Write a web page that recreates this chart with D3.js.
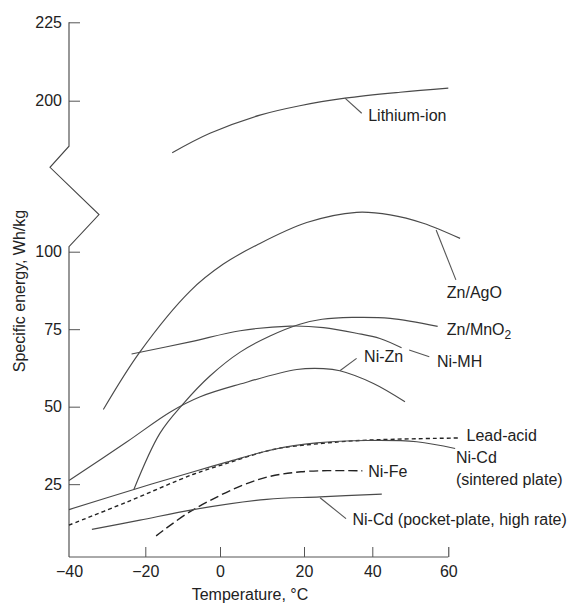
<!DOCTYPE html>
<html>
<head>
<meta charset="utf-8">
<script src="https://cdn.jsdelivr.net/npm/d3@7"></script>
<style>
  body { margin: 0; background: #fff; }
  text { font-family: "Liberation Sans", Arial, sans-serif; fill: #222; }
</style>
</head>
<body>
<svg id="chart" width="574" height="603"></svg>
<script>
'use strict';

// x: temperature (°C), y: specific energy (Wh/kg)
const xTicks = [-40, -20, 0, 20, 40, 60];
const yTicksLow = [25, 50, 75, 100];
const yTicksHigh = [200, 225];

// curves, [temperature, Wh/kg]
const lithiumIon = [[-12.8, 183.4], [-2.7, 189.6], [9.5, 195.4], [19.0, 198.4], [32.0, 200.8], [47.3, 202.7], [60, 204.0]];
const znAgO = [[-31.0, 49.1], [-21.4, 67.7], [-8.0, 87.3], [0.8, 96.0], [8.7, 102.1], [20.8, 109.4], [35.4, 112.7], [44.7, 111.9], [53.4, 109.2], [63.1, 104.3]];
const znMnO2 = [[-23.0, 23.3], [-16.1, 41.4], [-9.8, 51.0], [-2.7, 59.9], [4.8, 67.6], [11.9, 72.8], [19.0, 76.6], [25.3, 78.2], [34.1, 78.8], [44.7, 78.5], [57.2, 75.9]];
const niMH = [[-23.6, 67.0], [-8.0, 70.9], [4.8, 74.5], [16.7, 76.0], [25.7, 75.5], [35.4, 73.7], [42.0, 72.0], [47.7, 69.0]];
const niZn = [[-40, 26.2], [-24.9, 38.6], [-13.3, 48.3], [-5.3, 53.2], [4.8, 57.3], [18.3, 62.0], [25.7, 62.3], [30.5, 61.6], [40.3, 57.5], [48.6, 51.6]];
const leadAcid = [[-40, 11.8], [-24.9, 19.2], [-7.1, 28.2], [1.6, 31.7], [12.7, 36.2], [24.7, 38.1], [38.4, 39.2], [63.1, 39.9]];
const niCdSintered = [[-40, 16.8], [-23.0, 23.3], [-7.1, 29.0], [1.6, 32.1], [12.7, 36.2], [23.7, 38.3], [38.4, 39.1], [51.7, 38.7], [61.8, 36.5]];
const niFe = [[-17.1, 8.3], [-7.1, 16.8], [8.7, 26.3], [19.3, 29.0], [37.1, 29.3]];
const niCdPocket = [[-34.0, 10.4], [-21.4, 13.4], [-7.1, 16.8], [11.1, 20.1], [24.7, 20.9], [42.5, 21.8]];

const series = [
  { name: 'Lithium-ion', data: lithiumIon, high: true, dash: null },
  { name: 'Zn/AgO', data: znAgO, dash: null },
  { name: 'Zn/MnO2', data: znMnO2, dash: null },
  { name: 'Ni-MH', data: niMH, dash: null },
  { name: 'Ni-Zn', data: niZn, dash: null },
  { name: 'Lead-acid', data: leadAcid, dash: '4,3' },
  { name: 'Ni-Cd sintered', data: niCdSintered, dash: null },
  { name: 'Ni-Fe', data: niFe, dash: '9,4' },
  { name: 'Ni-Cd pocket', data: niCdPocket, dash: null }
];

// labels: text anchor and optional leader line, in data units
const labels = [
  { lines: ['Lithium-ion'], at: [38.8, 193.6], leader: [[32.0, 200.8], [36.9, 196.0]], high: true },
  { lines: ['Zn/AgO'], at: [59.6, 85.0], leader: [[56.8, 107.0], [62.0, 90.9]] },
  { lines: ['Zn/MnO|2'], at: [59.6, 73.1] },
  { lines: ['Ni-MH'], at: [57.0, 62.9], leader: [[49.7, 68.3], [55.0, 66.1]] },
  { lines: ['Ni-Zn'], at: [37.6, 64.3], leader: [[30.5, 61.6], [35.4, 65.6]] },
  { lines: ['Lead-acid'], at: [64.8, 38.9] },
  { lines: ['Ni-Cd', '(sintered plate)'], at: [62.0, 31.8] },
  { lines: ['Ni-Fe'], at: [38.8, 27.3] },
  { lines: ['Ni-Cd (pocket-plate, high rate)'], at: [34.2, 11.8], leader: [[24.7, 20.6], [32.3, 13.9]] }
];

const svg = d3.select('#chart');

// the original axis is hand drawn, so the x scale is piecewise
const x = d3.scaleLinear()
  .domain(xTicks)
  .range([69, 145.3, 220, 304, 372.3, 448.3]);

// broken y axis: low part and high part
const yLow = d3.scaleLinear().domain([1.5, 100]).range([557, 251.7]);
const yHigh = d3.scaleLinear().domain([200, 225]).range([100.7, 22.3]);

const axisColor = '#555';
const fontSize = 16;

// x axis
const gx = svg.append('g')
  .attr('transform', `translate(0,${yLow(1.5)})`)
  .call(d3.axisBottom(x).tickValues(xTicks).tickSize(-10).tickPadding(9)
    .tickFormat(d => d < 0 ? '\u2212' + Math.abs(d) : d));
gx.select('.domain').attr('stroke', axisColor).attr('d', `M${x(-40)},0H${x(60)}`);
gx.selectAll('.tick line').attr('stroke', axisColor);
gx.selectAll('.tick').filter(d => d === -40).select('line').remove();
gx.selectAll('.tick').filter(d => d === 60).select('line').attr('stroke', '#333');
gx.selectAll('text').style('font-size', fontSize + 'px').attr('fill', '#222');

// y axis, two parts
function yAxisPart(scale, ticks) {
  const g = svg.append('g')
    .attr('transform', `translate(${x(-40)},0)`)
    .call(d3.axisLeft(scale).tickValues(ticks).tickSize(-11).tickPadding(7));
  g.select('.domain').remove();
  g.selectAll('.tick line').attr('stroke', axisColor);
  g.selectAll('text').style('font-size', fontSize + 'px').attr('fill', '#222');
  return g;
}
yAxisPart(yLow, yTicksLow);
yAxisPart(yHigh, yTicksHigh);

// axis line with the zigzag break
const x0 = x(-40);
const breakTop = yHigh(185.5);
const breakBottom = yLow(101.6);
const zig = (breakBottom - breakTop);
svg.append('path')
  .attr('fill', 'none')
  .attr('stroke', '#444')
  .attr('stroke-width', 1.1)
  .attr('d', d3.line()([
    [x0, yHigh(225)],
    [x0, breakTop],
    [x0 - 19, breakTop + zig * 0.21],
    [x0 + 30, breakTop + zig * 0.68],
    [x0, breakBottom],
    [x0, yLow(1.5)]
  ]));

// curves
const line = d3.line().curve(d3.curveCatmullRom.alpha(0.5));
svg.append('g').selectAll('path')
  .data(series)
  .join('path')
  .attr('fill', 'none')
  .attr('stroke', d => d.dash ? '#222' : '#4a4a4a')
  .attr('stroke-width', d => d.dash ? 1.4 : 1.15)
  .attr('stroke-dasharray', d => d.dash)
  .attr('d', d => {
    const y = d.high ? yHigh : yLow;
    return line(d.data.map(p => [x(p[0]), y(p[1])]));
  });

// labels and leader lines
const gl = svg.append('g');
labels.forEach(l => {
  const y = l.high ? yHigh : yLow;
  if (l.leader) {
    gl.append('line')
      .attr('x1', x(l.leader[0][0])).attr('y1', y(l.leader[0][1]))
      .attr('x2', x(l.leader[1][0])).attr('y2', y(l.leader[1][1]))
      .attr('stroke', '#555').attr('stroke-width', 1.1);
  }
  const t = gl.append('text')
    .attr('x', x(l.at[0]))
    .attr('y', y(l.at[1]))
    .style('font-size', fontSize + 'px');
  l.lines.forEach((s, i) => {
    const parts = s.split('|');
    t.append('tspan').attr('x', x(l.at[0])).attr('dy', i === 0 ? 0 : '1.38em').text(parts[0]);
    if (parts[1]) {
      t.append('tspan').attr('dy', '0.3em').style('font-size', '12px').text(parts[1]);
    }
  });
});

// axis titles
svg.append('text')
  .attr('transform', `translate(25,291) rotate(-90)`)
  .attr('text-anchor', 'middle')
  .style('font-size', fontSize + 'px')
  .text('Specific energy, Wh/kg');

svg.append('text')
  .attr('x', 250)
  .attr('y', 600)
  .attr('text-anchor', 'middle')
  .style('font-size', fontSize + 'px')
  .text('Temperature, \u00B0C');
</script>
</body>
</html>
